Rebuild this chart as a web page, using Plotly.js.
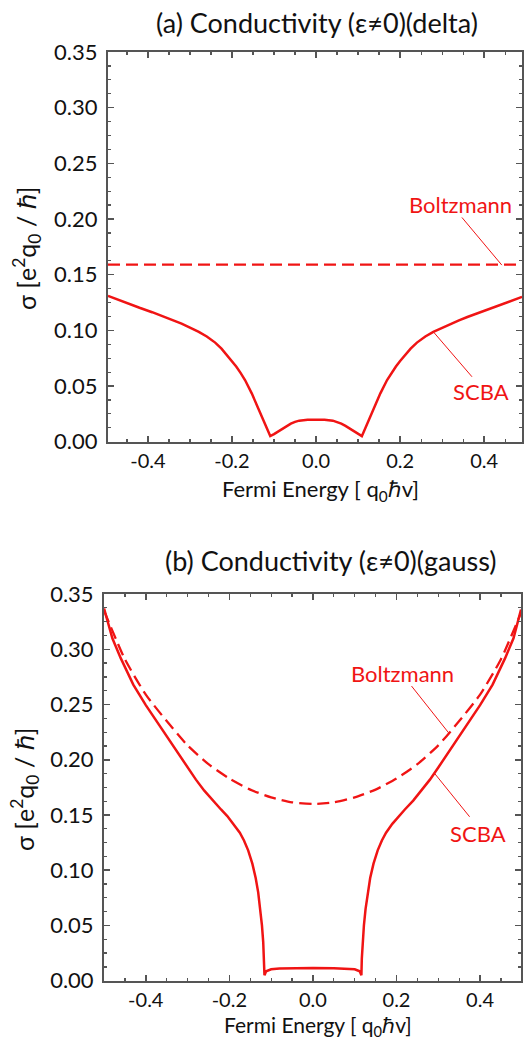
<!DOCTYPE html>
<html>
<head>
<meta charset="utf-8">
<script src="https://cdn.plot.ly/plotly-3.0.1.min.js"></script>
<style>html,body{margin:0;padding:0;background:#fff;}#chart{width:524px;height:1040px;}</style>
</head>
<body>
<div id="chart"></div>
<script>
// ---- Panel (a): delta ----
const xA_scba = [-0.495,-0.45,-0.42,-0.39,-0.36,-0.34,-0.32,-0.30,-0.279,-0.26,-0.24,-0.225,-0.21,-0.20,-0.19,-0.18,-0.169,-0.153,-0.143,-0.133,-0.12,-0.112,-0.109,-0.10,-0.09,-0.08,-0.07,-0.06,-0.05,-0.04,-0.02,0.0,0.02,0.04,0.05,0.06,0.07,0.08,0.09,0.10,0.109,0.112,0.12,0.133,0.143,0.153,0.169,0.18,0.19,0.20,0.21,0.225,0.24,0.26,0.279,0.30,0.32,0.34,0.36,0.39,0.42,0.45,0.49];
const yA_scba = [0.131,0.1243,0.1203,0.1163,0.112,0.109,0.106,0.1025,0.0987,0.0945,0.089,0.0835,0.077,0.0725,0.0675,0.062,0.0554,0.0434,0.0345,0.0255,0.0145,0.0075,0.005,0.0068,0.0092,0.0118,0.0142,0.0162,0.0178,0.0189,0.0198,0.0200,0.0198,0.0189,0.0178,0.0162,0.0142,0.0118,0.0092,0.0068,0.005,0.0075,0.0145,0.0255,0.0345,0.0434,0.0554,0.062,0.0675,0.0725,0.077,0.0835,0.089,0.0945,0.0987,0.1025,0.106,0.109,0.112,0.1163,0.1203,0.1243,0.130];
const xA_boltz = [-0.495,-0.25,0.0,0.25,0.49];
const yA_boltz = [0.159,0.159,0.159,0.159,0.159];

// ---- Panel (b): gauss ----
const xB_scba = [-0.5,-0.48,-0.46,-0.43,-0.40,-0.36,-0.33,-0.30,-0.28,-0.26,-0.24,-0.22,-0.205,-0.19,-0.175,-0.165,-0.155,-0.145,-0.137,-0.131,-0.126,-0.122,-0.119,-0.117,-0.116,-0.112,-0.10,-0.08,-0.05,0.0,0.05,0.08,0.10,0.112,0.116,0.117,0.119,0.122,0.126,0.131,0.137,0.145,0.155,0.165,0.175,0.19,0.205,0.22,0.24,0.26,0.28,0.30,0.33,0.36,0.40,0.43,0.46,0.48,0.498];
const yB_scba = [0.337,0.31,0.292,0.268,0.2495,0.227,0.21,0.193,0.182,0.172,0.163,0.155,0.149,0.142,0.134,0.127,0.118,0.106,0.093,0.080,0.065,0.050,0.035,0.020,0.005,0.0085,0.0103,0.0110,0.0113,0.0115,0.0113,0.0110,0.0103,0.0085,0.005,0.020,0.035,0.050,0.065,0.080,0.093,0.106,0.118,0.127,0.134,0.142,0.149,0.155,0.163,0.172,0.182,0.193,0.21,0.227,0.2495,0.268,0.292,0.31,0.336];
const xB_boltz = [-0.5,-0.45,-0.40,-0.35,-0.30,-0.25,-0.20,-0.15,-0.10,-0.05,0.0,0.05,0.10,0.15,0.20,0.25,0.30,0.35,0.40,0.45,0.498];
const yB_boltz = [0.335,0.291,0.259,0.235,0.213,0.196,0.183,0.173,0.166,0.1615,0.160,0.1615,0.166,0.173,0.183,0.196,0.213,0.235,0.259,0.291,0.333];

const yTickVals = [0,0.05,0.10,0.15,0.20,0.25,0.30,0.35];
const yTickText = ['0.00','0.05','0.10','0.15','0.20','0.25','0.30','0.35'];
const xTickVals = [-0.4,-0.2,0.0,0.2,0.4];
const xTickText = ['-0.4','-0.2','0.0','0.2','0.4'];

const titleA = '(a) Conductivity (ε≠0)(delta)';
const titleB = '(b) Conductivity (ε≠0)(gauss)';
const xTitle = 'Fermi Energy [ q<sub>0</sub>ℏv]';
const yTitle = 'σ [e<sup>2</sup>q<sub>0</sub> / ℏ]';

const RED = '#f01414';
const FONT = 'Lato, "Open Sans", sans-serif';

const traces = [
  {x: xA_boltz, y: yA_boltz, xaxis:'x', yaxis:'y', mode:'lines', line:{color:RED, width:2.3, dash:'12px,6px'}, hoverinfo:'skip'},
  {x: xA_scba, y: yA_scba, xaxis:'x', yaxis:'y', mode:'lines', line:{color:RED, width:2.5}, hoverinfo:'skip'},
  {x: xB_boltz, y: yB_boltz, xaxis:'x2', yaxis:'y2', mode:'lines', line:{color:RED, width:2.3, dash:'12px,6px', shape:'spline', smoothing:0.6}, hoverinfo:'skip'},
  {x: xB_scba, y: yB_scba, xaxis:'x2', yaxis:'y2', mode:'lines', line:{color:RED, width:2.5}, hoverinfo:'skip'}
];

function xax(domain, range, anchor){
  return {domain:domain, range:range, anchor:anchor, tickvals:xTickVals, ticktext:xTickText,
    ticks:'inside', ticklen:6, tickwidth:1.5, tickcolor:'#555', showline:true, linecolor:'#555', linewidth:2,
    mirror:'ticks', showgrid:false, zeroline:false, tickfont:{family:FONT, size:20, color:'#111'},
    ticklabelstandoff:0,
    minor:{dtick:0.05, ticks:'inside', ticklen:3, tickwidth:1.2, tickcolor:'#555', showgrid:false}, fixedrange:true};
}
function yax(domain, anchor){
  return {domain:domain, range:[0,0.35], anchor:anchor, tickvals:yTickVals, ticktext:yTickText,
    ticks:'inside', ticklen:6, tickwidth:1.5, tickcolor:'#555', showline:true, linecolor:'#555', linewidth:2,
    mirror:'ticks', showgrid:false, zeroline:false, tickfont:{family:FONT, size:22, color:'#111'},
    ticklabelstandoff:4,
    minor:{dtick:0.0125, ticks:'inside', ticklen:3, tickwidth:1.2, tickcolor:'#555', showgrid:false}, fixedrange:true};
}

const annFont = {family:FONT, size:22, color:RED};
const layout = {
  width:524, height:1040, margin:{l:0,r:0,t:0,b:0}, showlegend:false,
  paper_bgcolor:'#fff', plot_bgcolor:'#fff',
  xaxis: xax([0.2061,0.9962], [-0.495,0.49], 'y'),
  yaxis: yax([0.5753,0.95], 'x'),
  xaxis2: xax([0.1985,0.9943], [-0.5,0.498], 'y2'),
  yaxis2: yax([0.057,0.4288], 'x2'),
  shapes: [
    {type:'line', xref:'x', yref:'y', x0:0.347, y0:0.2014, x1:0.442, y1:0.1586, line:{color:RED, width:1}},
    {type:'line', xref:'x', yref:'y', x0:0.371, y0:0.0583, x1:0.279, y1:0.0987, line:{color:RED, width:1}},
    {type:'line', xref:'x2', yref:'y2', x0:0.236, y0:0.2667, x1:0.327, y1:0.2233, line:{color:RED, width:1}},
    {type:'line', xref:'x2', yref:'y2', x0:0.375, y0:0.1484, x1:0.291, y1:0.1877, line:{color:RED, width:1}}
  ],
  annotations: [
    {text:titleA, xref:'paper', yref:'paper', x:317/524, y:1-22/1040, showarrow:false, font:{family:FONT, size:27, color:'#111'}, xanchor:'center', yanchor:'middle'},
    {text:titleB, xref:'paper', yref:'paper', x:330/524, y:1-560/1040, showarrow:false, font:{family:FONT, size:27, color:'#111'}, xanchor:'center', yanchor:'middle'},
    {text:xTitle, xref:'paper', yref:'paper', x:320/524, y:1-490/1040, showarrow:false, font:{family:FONT, size:22, color:'#111'}, xanchor:'center', yanchor:'middle'},
    {text:xTitle, xref:'paper', yref:'paper', x:318/524, y:1-1026/1040, showarrow:false, font:{family:FONT, size:21, color:'#111'}, xanchor:'center', yanchor:'middle'},
    {text:yTitle, xref:'paper', yref:'paper', x:26/524, y:1-249/1040, showarrow:false, textangle:-90, font:{family:FONT, size:25, color:'#111'}, xanchor:'center', yanchor:'middle'},
    {text:yTitle, xref:'paper', yref:'paper', x:24/524, y:1-790/1040, showarrow:false, textangle:-90, font:{family:FONT, size:25, color:'#111'}, xanchor:'center', yanchor:'middle'},
    {text:'Boltzmann', xref:'x', yref:'y', x:0.343, y:0.2132, showarrow:false, font:annFont, xanchor:'center', yanchor:'middle'},
    {text:'SCBA', xref:'x', yref:'y', x:0.393, y:0.0449, showarrow:false, font:annFont, xanchor:'center', yanchor:'middle'},
    {text:'Boltzmann', xref:'x2', yref:'y2', x:0.215, y:0.2785, showarrow:false, font:annFont, xanchor:'center', yanchor:'middle'},
    {text:'SCBA', xref:'x2', yref:'y2', x:0.396, y:0.1337, showarrow:false, font:annFont, xanchor:'center', yanchor:'middle'}
  ]
};

Plotly.newPlot('chart', traces, layout, {staticPlot:true, displayModeBar:false});
</script>
</body>
</html>
